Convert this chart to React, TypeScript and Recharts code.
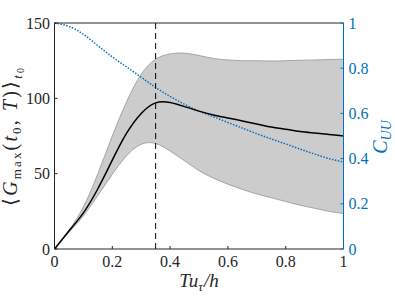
import React from 'react';
import { ComposedChart, Area, Line, XAxis, YAxis, ReferenceLine } from 'recharts';

// Tu_tau/h sample points
const tValues = [0, 0.05, 0.1, 0.15, 0.2, 0.25, 0.3, 0.35, 0.4, 0.45, 0.5, 0.55, 0.6, 0.65, 0.7, 0.75, 0.8, 0.85, 0.9, 0.95, 1];
// <G_max(t0,T)>_t0 mean and spread band
const meanGain = [0, 12, 24, 40, 59, 77, 90, 97, 97.2, 94.5, 91.5, 89, 87, 85, 83, 81, 79.5, 78, 77, 76, 75];
const lowerGain = [0, 11, 22, 35.5, 49.5, 62, 69.5, 70, 65, 58.5, 52, 47, 43, 39.5, 36.5, 34, 31.5, 29, 27, 25, 23.5];
const upperGain = [0, 12.5, 28, 50, 75, 98, 116, 126, 129.5, 130, 128.5, 126.5, 125.5, 125, 125, 124.8, 125, 125.3, 125.5, 125.8, 126];
// C_UU (right axis)
const cuuValues = [1, 0.985, 0.95, 0.9, 0.85, 0.805, 0.76, 0.715, 0.675, 0.64, 0.61, 0.585, 0.56, 0.535, 0.51, 0.487, 0.465, 0.442, 0.42, 0.4, 0.385];

const xTicks = [0, 0.2, 0.4, 0.6, 0.8, 1];
const leftTicks = [0, 50, 100, 150];
const rightTicks = [0, 0.2, 0.4, 0.6, 0.8, 1];

const data = tValues.map((t, i) => ({
  t,
  mean: meanGain[i],
  band: [lowerGain[i], upperGain[i]],
  cuu: cuuValues[i],
}));

const axisColor = '#262626';
const blue = '#0072BD';
const font = { fontFamily: "'Liberation Serif'" };
const fontCss = `#gplot text, #gplot tspan { font-family: 'Liberation Serif', 'Times New Roman', serif !important; }`;

// tick label with inline font
const makeTick = (anchor: 'start' | 'middle' | 'end', dy: string, color: string) => (props: any) => {
  const { x, y, payload } = props;
  return (
    <text x={x} y={y} dy={dy} textAnchor={anchor} fill={color} fontSize={16} style={font}>
      {String(payload.value)}
    </text>
  );
};

const App: React.FC = () => {
  return (
    <div
      id="gplot"
      style={{ position: 'absolute', left: 0, top: 0, width: 395, height: 296, background: '#fff', fontFamily: "'Liberation Serif'" }}
    >
      <style>{fontCss}</style>
      <ComposedChart width={395} height={296} data={data} margin={{ top: 3, right: 0.5, bottom: 0, left: 0.5 }}>
        <XAxis
          xAxisId="b"
          dataKey="t"
          type="number"
          domain={[0, 1]}
          ticks={xTicks}
          height={47}
          tickSize={-3}
          tickMargin={10}
          axisLine={{ stroke: axisColor }}
          tickLine={{ stroke: axisColor }}
          tick={makeTick('middle', '0.71em', axisColor)}
        />
        <XAxis
          xAxisId="top"
          orientation="top"
          dataKey="t"
          type="number"
          domain={[0, 1]}
          ticks={xTicks}
          height={20}
          tickSize={-3}
          tick={false}
          axisLine={{ stroke: axisColor }}
          tickLine={{ stroke: axisColor }}
        />
        <YAxis
          yAxisId="l"
          type="number"
          domain={[0, 150]}
          ticks={leftTicks}
          width={54}
          tickSize={-3}
          tickMargin={7.5}
          axisLine={{ stroke: axisColor }}
          tickLine={{ stroke: axisColor }}
          tick={makeTick('end', '0.355em', axisColor)}
        />
        <YAxis
          yAxisId="r"
          orientation="right"
          type="number"
          domain={[0, 1]}
          ticks={rightTicks}
          width={51}
          tickSize={-3}
          tickMargin={8}
          axisLine={{ stroke: blue }}
          tickLine={{ stroke: blue }}
          tick={makeTick('start', '0.355em', blue)}
        />
        <Area
          xAxisId="b"
          yAxisId="l"
          dataKey="band"
          type="natural"
          fill="#cccccc"
          fillOpacity={1}
          stroke="#7a7a7a"
          strokeWidth={0.6}
          isAnimationActive={false}
        />
        <Line
          xAxisId="b"
          yAxisId="r"
          dataKey="cuu"
          type="natural"
          stroke={blue}
          strokeWidth={1.5}
          strokeDasharray="1.5 1.5"
          dot={false}
          isAnimationActive={false}
        />
        <Line
          xAxisId="b"
          yAxisId="l"
          dataKey="mean"
          type="natural"
          stroke="#000"
          strokeWidth={1.5}
          dot={false}
          isAnimationActive={false}
        />
        <ReferenceLine xAxisId="b" yAxisId="l" x={0.35} stroke="#000" strokeDasharray="6 4" />
      </ComposedChart>
      <svg width={395} height={296} style={{ position: 'absolute', left: 0, top: 0, pointerEvents: 'none' }}>
        <text x={199} y={287} textAnchor="middle" fontSize={19} fontStyle="italic" fill={axisColor} style={font}>
          Tu<tspan fontSize={13} dy={4}>τ</tspan>
          <tspan dy={-4} dx={1}>/</tspan>h
        </text>
        <text
          transform="translate(17,137) rotate(-90)"
          textAnchor="middle"
          fontSize={20}
          fill={axisColor}
          style={font}
          textLength={138}
          lengthAdjust="spacing"
        >
          ⟨<tspan fontStyle="italic">G</tspan>
          <tspan fontSize={13} dy={4}>max</tspan>
          <tspan dy={-4}>(</tspan>
          <tspan fontStyle="italic">t</tspan>
          <tspan fontSize={13} dy={4}>0</tspan>
          <tspan dy={-4}>, </tspan>
          <tspan fontStyle="italic">T</tspan>)⟩
          <tspan fontSize={13} dy={5} fontStyle="italic">t</tspan>
          <tspan fontSize={10} dy={2}>0</tspan>
        </text>
        <text transform="translate(387,137) rotate(-90)" textAnchor="middle" fontSize={20} fontStyle="italic" fill={blue} style={font}>
          C<tspan fontSize={14} dy={4}>UU</tspan>
        </text>
      </svg>
    </div>
  );
};

export default App;
